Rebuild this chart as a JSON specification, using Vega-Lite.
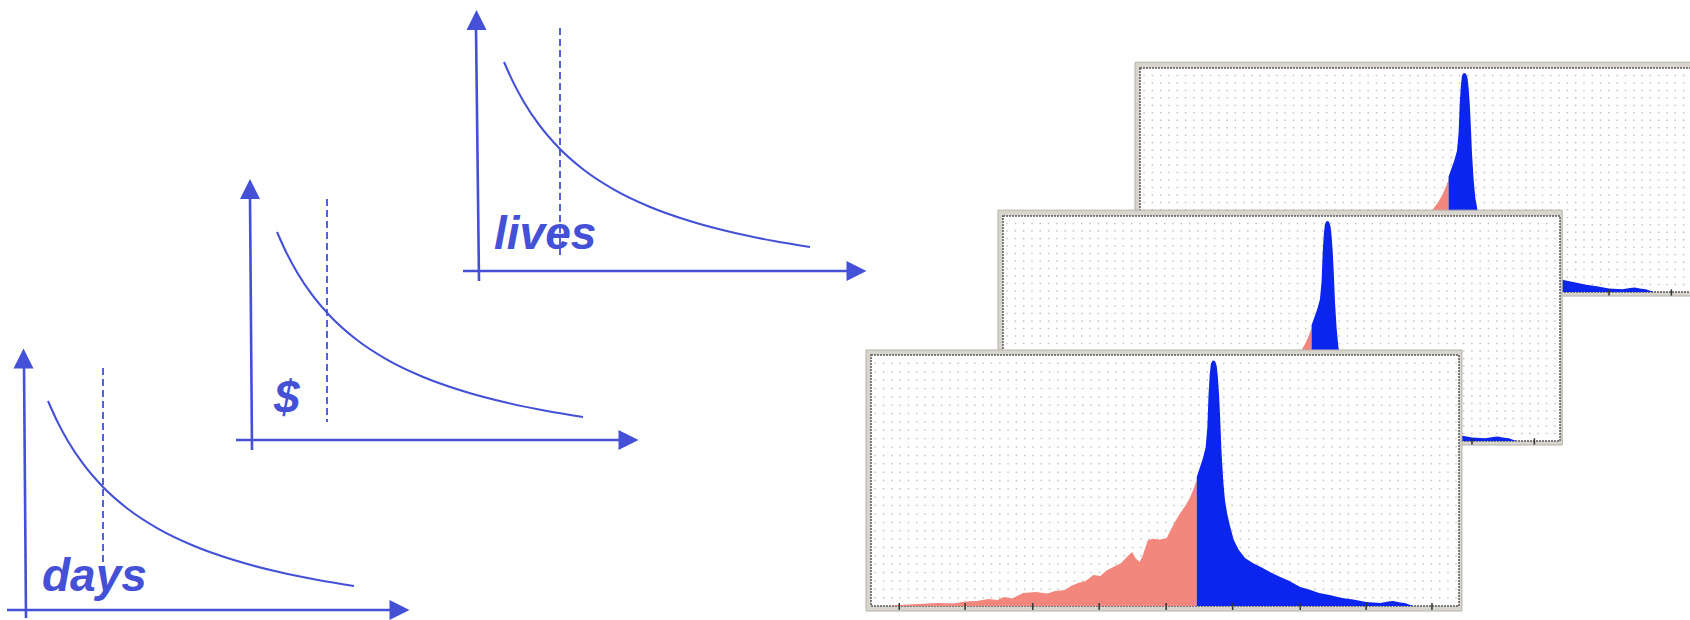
{
  "$schema": "https://vega.github.io/schema/vega-lite/v6.json",
  "width": 1690,
  "height": 620,
  "autosize": {"type": "fit", "contains": "padding"},
  "padding": 0,
  "background": "white",
  "config": {"view": {"stroke": null}},
  "datasets": {
    "axes": [
      {"x": 24, "y": 366, "x2": 26, "y2": 618},
      {"x": 7, "y": 610, "x2": 392, "y2": 610},
      {"x": 250, "y": 197, "x2": 252, "y2": 450},
      {"x": 236, "y": 440, "x2": 621, "y2": 440},
      {"x": 476, "y": 28, "x2": 479, "y2": 281},
      {"x": 463, "y": 271, "x2": 848, "y2": 271}
    ],
    "dashes": [
      {"x": 103, "y": 368, "y2": 567},
      {"x": 327, "y": 199, "y2": 422},
      {"x": 560, "y": 28, "y2": 257}
    ],
    "upArrows": [
      {"x": 23.5, "y": 358.5},
      {"x": 250, "y": 189},
      {"x": 476.5, "y": 20}
    ],
    "rightArrows": [
      {"x": 399.5, "y": 610},
      {"x": 628.5, "y": 440},
      {"x": 856.5, "y": 271}
    ],
    "labels": [
      {"x": 42, "y": 591, "t": "days"},
      {"x": 274, "y": 413, "t": "$"},
      {"x": 494, "y": 249, "t": "lives"}
    ],
    "curves": [
      {"c": "days", "x": 48, "y": 401}, {"c": "days", "x": 58, "y": 422.9}, {"c": "days", "x": 68, "y": 441.2}, {"c": "days", "x": 83, "y": 463.7}, {"c": "days", "x": 103, "y": 487}, {"c": "days", "x": 128, "y": 509}, {"c": "days", "x": 158, "y": 528.6}, {"c": "days", "x": 193, "y": 545.5}, {"c": "days", "x": 233, "y": 559.8}, {"c": "days", "x": 278, "y": 571.8}, {"c": "days", "x": 318, "y": 580}, {"c": "days", "x": 354, "y": 586},
      {"c": "usd", "x": 277, "y": 232}, {"c": "usd", "x": 287, "y": 253.9}, {"c": "usd", "x": 297, "y": 272.2}, {"c": "usd", "x": 312, "y": 294.7}, {"c": "usd", "x": 332, "y": 318}, {"c": "usd", "x": 357, "y": 340}, {"c": "usd", "x": 387, "y": 359.6}, {"c": "usd", "x": 422, "y": 376.5}, {"c": "usd", "x": 462, "y": 390.8}, {"c": "usd", "x": 507, "y": 402.8}, {"c": "usd", "x": 547, "y": 411}, {"c": "usd", "x": 583, "y": 417},
      {"c": "lives", "x": 504, "y": 62}, {"c": "lives", "x": 514, "y": 83.9}, {"c": "lives", "x": 524, "y": 102.2}, {"c": "lives", "x": 539, "y": 124.7}, {"c": "lives", "x": 559, "y": 148}, {"c": "lives", "x": 584, "y": 170}, {"c": "lives", "x": 614, "y": 189.6}, {"c": "lives", "x": 649, "y": 206.5}, {"c": "lives", "x": 689, "y": 220.8}, {"c": "lives", "x": 734, "y": 232.8}, {"c": "lives", "x": 774, "y": 241}, {"c": "lives", "x": 810, "y": 247}
    ],
    "hist": [
      {"s": "neg", "x": 3.0, "y": 0}, {"s": "neg", "x": 4.8, "y": 0.4}, {"s": "neg", "x": 8, "y": 0.8}, {"s": "neg", "x": 11.4, "y": 1.2}, {"s": "neg", "x": 14, "y": 1.0}, {"s": "neg", "x": 16, "y": 1.8}, {"s": "neg", "x": 18, "y": 2.0}, {"s": "neg", "x": 20, "y": 2.8}, {"s": "neg", "x": 21.5, "y": 2.4}, {"s": "neg", "x": 22.6, "y": 3.6}, {"s": "neg", "x": 24, "y": 3.0}, {"s": "neg", "x": 25.9, "y": 5.2}, {"s": "neg", "x": 28, "y": 5.6}, {"s": "neg", "x": 30, "y": 5.0}, {"s": "neg", "x": 31.3, "y": 6.0}, {"s": "neg", "x": 33, "y": 6.4}, {"s": "neg", "x": 34, "y": 8.0}, {"s": "neg", "x": 35.2, "y": 9.2}, {"s": "neg", "x": 36.5, "y": 10.0}, {"s": "neg", "x": 37.8, "y": 12.4}, {"s": "neg", "x": 39, "y": 12.0}, {"s": "neg", "x": 40, "y": 14.0}, {"s": "neg", "x": 41.2, "y": 15.5}, {"s": "neg", "x": 42.5, "y": 17.0}, {"s": "neg", "x": 43.5, "y": 19.5}, {"s": "neg", "x": 44.4, "y": 21.5}, {"s": "neg", "x": 45.0, "y": 19.0}, {"s": "neg", "x": 45.7, "y": 17.5}, {"s": "neg", "x": 46.2, "y": 20.0}, {"s": "neg", "x": 47.1, "y": 26.3}, {"s": "neg", "x": 48, "y": 26.8}, {"s": "neg", "x": 49, "y": 26.4}, {"s": "neg", "x": 50.3, "y": 27.1}, {"s": "neg", "x": 51, "y": 30.5}, {"s": "neg", "x": 51.8, "y": 34.0}, {"s": "neg", "x": 52.6, "y": 37.1}, {"s": "neg", "x": 53.5, "y": 40.0}, {"s": "neg", "x": 54.3, "y": 43.4}, {"s": "neg", "x": 55, "y": 47.5}, {"s": "neg", "x": 55.4, "y": 50.2},
      {"s": "pos", "x": 55.4, "y": 51.4}, {"s": "pos", "x": 55.9, "y": 55}, {"s": "pos", "x": 56.4, "y": 58.5}, {"s": "pos", "x": 56.9, "y": 63}, {"s": "pos", "x": 57.2, "y": 71}, {"s": "pos", "x": 57.4, "y": 84}, {"s": "pos", "x": 57.6, "y": 92}, {"s": "pos", "x": 57.8, "y": 96.5}, {"s": "pos", "x": 58.1, "y": 97.8}, {"s": "pos", "x": 58.5, "y": 97.6}, {"s": "pos", "x": 58.8, "y": 95.5}, {"s": "pos", "x": 59.0, "y": 91}, {"s": "pos", "x": 59.2, "y": 84}, {"s": "pos", "x": 59.4, "y": 74}, {"s": "pos", "x": 59.6, "y": 62}, {"s": "pos", "x": 59.9, "y": 50}, {"s": "pos", "x": 60.2, "y": 42}, {"s": "pos", "x": 60.6, "y": 36.5}, {"s": "pos", "x": 61.1, "y": 31.5}, {"s": "pos", "x": 61.7, "y": 26.3}, {"s": "pos", "x": 62.5, "y": 22.5}, {"s": "pos", "x": 63.6, "y": 19.1}, {"s": "pos", "x": 65, "y": 17}, {"s": "pos", "x": 66.3, "y": 15.5}, {"s": "pos", "x": 68, "y": 13.3}, {"s": "pos", "x": 69.6, "y": 11.6}, {"s": "pos", "x": 71, "y": 10.2}, {"s": "pos", "x": 73.0, "y": 7.6}, {"s": "pos", "x": 74.5, "y": 6.6}, {"s": "pos", "x": 76.2, "y": 5.2}, {"s": "pos", "x": 78, "y": 4.4}, {"s": "pos", "x": 80.1, "y": 3.2}, {"s": "pos", "x": 82, "y": 2.6}, {"s": "pos", "x": 84.2, "y": 1.6}, {"s": "pos", "x": 86.6, "y": 1.2}, {"s": "pos", "x": 88, "y": 1.8}, {"s": "pos", "x": 88.8, "y": 2.0}, {"s": "pos", "x": 90, "y": 1.4}, {"s": "pos", "x": 90.8, "y": 1.2}, {"s": "pos", "x": 92.2, "y": 0}
    ],
    "grid": [
      {"y": 3.3}, {"y": 6.7}, {"y": 10}, {"y": 13.3}, {"y": 16.7}, {"y": 20}, {"y": 23.3}, {"y": 26.7}, {"y": 30}, {"y": 33.3}, {"y": 36.7}, {"y": 40}, {"y": 43.3}, {"y": 46.7}, {"y": 50}, {"y": 53.3}, {"y": 56.7}, {"y": 60}, {"y": 63.3}, {"y": 66.7}, {"y": 70}, {"y": 73.3}, {"y": 76.7}, {"y": 80}, {"y": 83.3}, {"y": 86.7}, {"y": 90}, {"y": 93.3}, {"y": 96.7}
    ],
    "ticks": [
      {"x": 4.8}, {"x": 16}, {"x": 27.5}, {"x": 38.8}, {"x": 50.2}, {"x": 61.5}, {"x": 73}, {"x": 84.2}, {"x": 95.4}
    ],
    "one": [{"k": 1}]
  },
  "resolve": {"scale": {"x": "independent", "y": "independent"}},
  "layer": [
    {
      "layer": [
        {
          "data": {"name": "axes"},
          "mark": {"type": "rule", "color": "#4450d6", "strokeWidth": 2.6},
          "encoding": {
            "x": {"field": "x", "type": "quantitative", "scale": {"domain": [0, 1690], "range": [0, 1690], "nice": false}, "axis": null},
            "y": {"field": "y", "type": "quantitative", "scale": {"domain": [0, 620], "range": [0, 620], "nice": false}, "axis": null},
            "x2": {"field": "x2"},
            "y2": {"field": "y2"}
          }
        },
        {
          "data": {"name": "dashes"},
          "mark": {"type": "rule", "color": "#4450d6", "strokeWidth": 1.8, "strokeDash": [7, 4]},
          "encoding": {
            "x": {"field": "x", "type": "quantitative", "scale": {"domain": [0, 1690], "range": [0, 1690], "nice": false}, "axis": null},
            "y": {"field": "y", "type": "quantitative", "scale": {"domain": [0, 620], "range": [0, 620], "nice": false}, "axis": null},
            "y2": {"field": "y2"}
          }
        },
        {
          "data": {"name": "curves"},
          "mark": {"type": "line", "color": "#4450d6", "strokeWidth": 2.1, "interpolate": "monotone"},
          "encoding": {
            "x": {"field": "x", "type": "quantitative", "scale": {"domain": [0, 1690], "range": [0, 1690], "nice": false}, "axis": null},
            "y": {"field": "y", "type": "quantitative", "scale": {"domain": [0, 620], "range": [0, 620], "nice": false}, "axis": null},
            "detail": {"field": "c"}
          }
        },
        {
          "data": {"name": "upArrows"},
          "mark": {"type": "point", "shape": "M-1,1L1,1L0,-1Z", "filled": true, "size": 400, "color": "#4450d6", "opacity": 1, "strokeWidth": 0},
          "encoding": {
            "x": {"field": "x", "type": "quantitative", "scale": {"domain": [0, 1690], "range": [0, 1690], "nice": false}, "axis": null},
            "y": {"field": "y", "type": "quantitative", "scale": {"domain": [0, 620], "range": [0, 620], "nice": false}, "axis": null}
          }
        },
        {
          "data": {"name": "rightArrows"},
          "mark": {"type": "point", "shape": "M-1,-1L1,0L-1,1Z", "filled": true, "size": 400, "color": "#4450d6", "opacity": 1, "strokeWidth": 0},
          "encoding": {
            "x": {"field": "x", "type": "quantitative", "scale": {"domain": [0, 1690], "range": [0, 1690], "nice": false}, "axis": null},
            "y": {"field": "y", "type": "quantitative", "scale": {"domain": [0, 620], "range": [0, 620], "nice": false}, "axis": null}
          }
        },
        {
          "data": {"name": "labels"},
          "mark": {"type": "text", "font": "Liberation Sans", "fontWeight": "bold", "fontStyle": "italic", "fontSize": 46, "align": "left", "baseline": "alphabetic", "color": "#4450d6"},
          "encoding": {
            "x": {"field": "x", "type": "quantitative", "scale": {"domain": [0, 1690], "range": [0, 1690], "nice": false}, "axis": null},
            "y": {"field": "y", "type": "quantitative", "scale": {"domain": [0, 620], "range": [0, 620], "nice": false}, "axis": null},
            "text": {"field": "t"}
          }
        }
      ]
    },
    {
      "layer": [
        {"data": {"name": "one"}, "mark": {"type": "rect", "fill": "#d8d5ce", "stroke": "#b5b2ab", "strokeWidth": 1},
         "encoding": {"x": {"datum": -0.9, "type": "quantitative", "scale": {"domain": [0, 100], "range": [1140, 1697], "nice": false}, "axis": null}, "x2": {"datum": 100.5},
                      "y": {"datum": -1.8, "type": "quantitative", "scale": {"domain": [0, 100], "range": [292, 68], "nice": false}, "axis": null}, "y2": {"datum": 102.6}}},
        {"data": {"name": "one"}, "mark": {"type": "rect", "fill": "white", "stroke": "#5a5a5a", "strokeWidth": 1.5, "strokeDash": [2, 1]},
         "encoding": {"x": {"datum": 0, "type": "quantitative", "scale": {"domain": [0, 100], "range": [1140, 1697], "nice": false}, "axis": null}, "x2": {"datum": 100},
                      "y": {"datum": 0, "type": "quantitative", "scale": {"domain": [0, 100], "range": [292, 68], "nice": false}, "axis": null}, "y2": {"datum": 100}}},
        {"data": {"name": "grid"}, "mark": {"type": "rule", "color": "#c4c4c4", "strokeWidth": 1.5, "strokeDash": [1.5, 6.8]},
         "encoding": {"x": {"datum": 0.6, "type": "quantitative", "scale": {"domain": [0, 100], "range": [1140, 1697], "nice": false}, "axis": null}, "x2": {"datum": 99.6},
                      "y": {"field": "y", "type": "quantitative", "scale": {"domain": [0, 100], "range": [292, 68], "nice": false}, "axis": null}}},
        {"data": {"name": "hist"}, "transform": [{"filter": "datum.s === 'neg'"}], "mark": {"type": "area", "color": "#f4877d", "opacity": 1},
         "encoding": {"x": {"field": "x", "type": "quantitative", "scale": {"domain": [0, 100], "range": [1140, 1697], "nice": false}, "axis": null},
                      "y": {"field": "y", "type": "quantitative", "stack": null, "scale": {"domain": [0, 100], "range": [292, 68], "nice": false}, "axis": null}}},
        {"data": {"name": "hist"}, "transform": [{"filter": "datum.s === 'pos'"}], "mark": {"type": "area", "color": "#0b25ee", "opacity": 1},
         "encoding": {"x": {"field": "x", "type": "quantitative", "scale": {"domain": [0, 100], "range": [1140, 1697], "nice": false}, "axis": null},
                      "y": {"field": "y", "type": "quantitative", "stack": null, "scale": {"domain": [0, 100], "range": [292, 68], "nice": false}, "axis": null}}},
        {"data": {"name": "ticks"}, "mark": {"type": "rule", "color": "#333333", "strokeWidth": 1.5},
         "encoding": {"x": {"field": "x", "type": "quantitative", "scale": {"domain": [0, 100], "range": [1140, 1697], "nice": false}, "axis": null},
                      "y": {"datum": -1.6, "type": "quantitative", "scale": {"domain": [0, 100], "range": [292, 68], "nice": false}, "axis": null}, "y2": {"datum": 1.2}}}
      ]
    },
    {
      "layer": [
        {"data": {"name": "one"}, "mark": {"type": "rect", "fill": "#d8d5ce", "stroke": "#b5b2ab", "strokeWidth": 1},
         "encoding": {"x": {"datum": -0.9, "type": "quantitative", "scale": {"domain": [0, 100], "range": [1003, 1560], "nice": false}, "axis": null}, "x2": {"datum": 100.4},
                      "y": {"datum": -1.8, "type": "quantitative", "scale": {"domain": [0, 100], "range": [441, 216], "nice": false}, "axis": null}, "y2": {"datum": 102.6}}},
        {"data": {"name": "one"}, "mark": {"type": "rect", "fill": "white", "stroke": "#5a5a5a", "strokeWidth": 1.5, "strokeDash": [2, 1]},
         "encoding": {"x": {"datum": 0, "type": "quantitative", "scale": {"domain": [0, 100], "range": [1003, 1560], "nice": false}, "axis": null}, "x2": {"datum": 100},
                      "y": {"datum": 0, "type": "quantitative", "scale": {"domain": [0, 100], "range": [441, 216], "nice": false}, "axis": null}, "y2": {"datum": 100}}},
        {"data": {"name": "grid"}, "mark": {"type": "rule", "color": "#c4c4c4", "strokeWidth": 1.5, "strokeDash": [1.5, 6.8]},
         "encoding": {"x": {"datum": 0.6, "type": "quantitative", "scale": {"domain": [0, 100], "range": [1003, 1560], "nice": false}, "axis": null}, "x2": {"datum": 99.6},
                      "y": {"field": "y", "type": "quantitative", "scale": {"domain": [0, 100], "range": [441, 216], "nice": false}, "axis": null}}},
        {"data": {"name": "hist"}, "transform": [{"filter": "datum.s === 'neg'"}], "mark": {"type": "area", "color": "#f4877d", "opacity": 1},
         "encoding": {"x": {"field": "x", "type": "quantitative", "scale": {"domain": [0, 100], "range": [1003, 1560], "nice": false}, "axis": null},
                      "y": {"field": "y", "type": "quantitative", "stack": null, "scale": {"domain": [0, 100], "range": [441, 216], "nice": false}, "axis": null}}},
        {"data": {"name": "hist"}, "transform": [{"filter": "datum.s === 'pos'"}], "mark": {"type": "area", "color": "#0b25ee", "opacity": 1},
         "encoding": {"x": {"field": "x", "type": "quantitative", "scale": {"domain": [0, 100], "range": [1003, 1560], "nice": false}, "axis": null},
                      "y": {"field": "y", "type": "quantitative", "stack": null, "scale": {"domain": [0, 100], "range": [441, 216], "nice": false}, "axis": null}}},
        {"data": {"name": "ticks"}, "mark": {"type": "rule", "color": "#333333", "strokeWidth": 1.5},
         "encoding": {"x": {"field": "x", "type": "quantitative", "scale": {"domain": [0, 100], "range": [1003, 1560], "nice": false}, "axis": null},
                      "y": {"datum": -1.6, "type": "quantitative", "scale": {"domain": [0, 100], "range": [441, 216], "nice": false}, "axis": null}, "y2": {"datum": 1.2}}}
      ]
    },
    {
      "layer": [
        {"data": {"name": "one"}, "mark": {"type": "rect", "fill": "#d8d5ce", "stroke": "#b5b2ab", "strokeWidth": 1},
         "encoding": {"x": {"datum": -0.85, "type": "quantitative", "scale": {"domain": [0, 100], "range": [871, 1459], "nice": false}, "axis": null}, "x2": {"datum": 100.5},
                      "y": {"datum": -2, "type": "quantitative", "scale": {"domain": [0, 100], "range": [606, 355], "nice": false}, "axis": null}, "y2": {"datum": 102}}},
        {"data": {"name": "one"}, "mark": {"type": "rect", "fill": "white", "stroke": "#5a5a5a", "strokeWidth": 1.5, "strokeDash": [2, 1]},
         "encoding": {"x": {"datum": 0, "type": "quantitative", "scale": {"domain": [0, 100], "range": [871, 1459], "nice": false}, "axis": null}, "x2": {"datum": 100},
                      "y": {"datum": 0, "type": "quantitative", "scale": {"domain": [0, 100], "range": [606, 355], "nice": false}, "axis": null}, "y2": {"datum": 100}}},
        {"data": {"name": "grid"}, "mark": {"type": "rule", "color": "#c4c4c4", "strokeWidth": 1.5, "strokeDash": [1.5, 6.8]},
         "encoding": {"x": {"datum": 0.6, "type": "quantitative", "scale": {"domain": [0, 100], "range": [871, 1459], "nice": false}, "axis": null}, "x2": {"datum": 99.6},
                      "y": {"field": "y", "type": "quantitative", "scale": {"domain": [0, 100], "range": [606, 355], "nice": false}, "axis": null}}},
        {"data": {"name": "hist"}, "transform": [{"filter": "datum.s === 'neg'"}], "mark": {"type": "area", "color": "#f4877d", "opacity": 1},
         "encoding": {"x": {"field": "x", "type": "quantitative", "scale": {"domain": [0, 100], "range": [871, 1459], "nice": false}, "axis": null},
                      "y": {"field": "y", "type": "quantitative", "stack": null, "scale": {"domain": [0, 100], "range": [606, 355], "nice": false}, "axis": null}}},
        {"data": {"name": "hist"}, "transform": [{"filter": "datum.s === 'pos'"}], "mark": {"type": "area", "color": "#0b25ee", "opacity": 1},
         "encoding": {"x": {"field": "x", "type": "quantitative", "scale": {"domain": [0, 100], "range": [871, 1459], "nice": false}, "axis": null},
                      "y": {"field": "y", "type": "quantitative", "stack": null, "scale": {"domain": [0, 100], "range": [606, 355], "nice": false}, "axis": null}}},
        {"data": {"name": "ticks"}, "mark": {"type": "rule", "color": "#333333", "strokeWidth": 1.5},
         "encoding": {"x": {"field": "x", "type": "quantitative", "scale": {"domain": [0, 100], "range": [871, 1459], "nice": false}, "axis": null},
                      "y": {"datum": -1.6, "type": "quantitative", "scale": {"domain": [0, 100], "range": [606, 355], "nice": false}, "axis": null}, "y2": {"datum": 1.2}}}
      ]
    }
  ]
}
